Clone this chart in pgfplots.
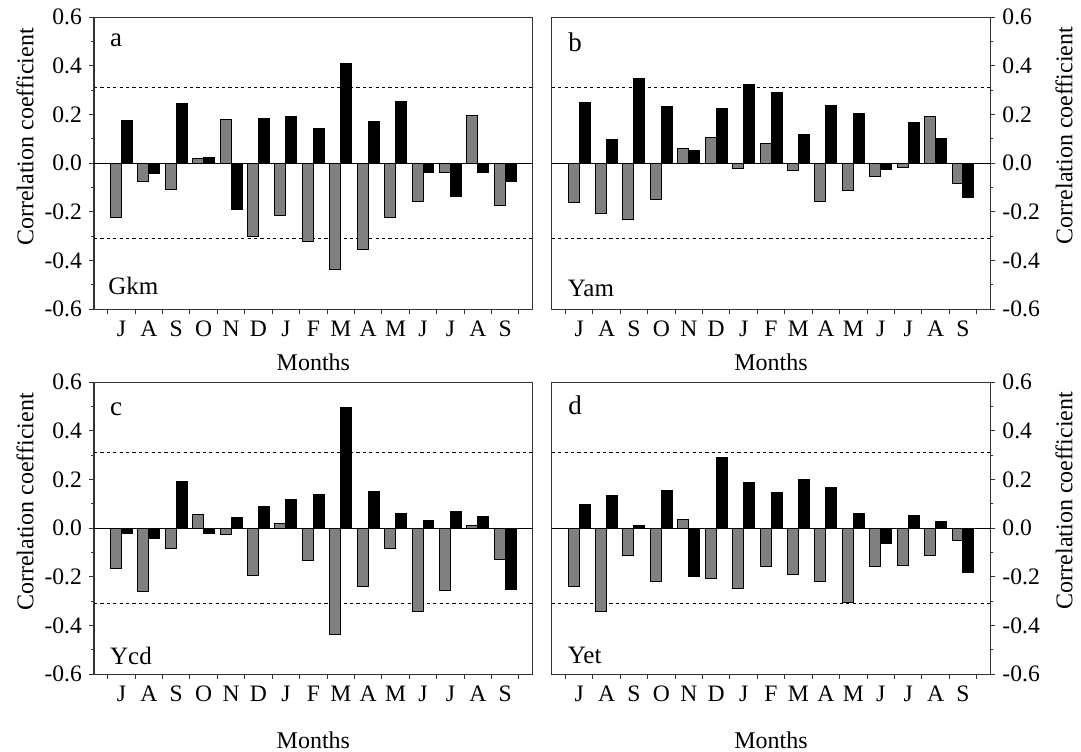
\documentclass[border=0pt]{standalone}
\usepackage{fontspec}
\setmainfont{Liberation Serif}
\usepackage{pgfplots}
\usepackage{pgfplotstable}
\pgfplotsset{compat=1.18}

\pgfplotstableread{
m ag ab bg bb cg cb dg db
1 -0.222 0.175 -0.163 0.248 -0.164 -0.023 -0.238 0.098
2 -0.075 -0.044 -0.208 0.097 -0.261 -0.041 -0.340 0.136
3 -0.107 0.247 -0.232 0.349 -0.085 0.194 -0.110 0.010
4 0.018 0.025 -0.149 0.233 0.056 -0.021 -0.217 0.155
5 0.178 -0.188 0.060 0.052 -0.026 0.044 0.036 -0.197
6 -0.299 0.184 0.104 0.227 -0.194 0.088 -0.205 0.290
7 -0.216 0.193 -0.021 0.323 0.019 0.117 -0.246 0.188
8 -0.322 0.142 0.082 0.290 -0.132 0.138 -0.157 0.146
9 -0.438 0.411 -0.029 0.119 -0.436 0.497 -0.190 0.202
10 -0.356 0.170 -0.159 0.236 -0.238 0.151 -0.219 0.169
11 -0.222 0.252 -0.110 0.203 -0.085 0.061 -0.304 0.061
12 -0.155 -0.037 -0.055 -0.025 -0.341 0.030 -0.157 -0.062
13 -0.037 -0.138 -0.016 0.166 -0.256 0.069 -0.153 0.054
14 0.195 -0.036 0.193 0.103 0.012 0.047 -0.111 0.026
15 -0.173 -0.075 -0.085 -0.140 -0.128 -0.252 -0.051 -0.182
}\data

\definecolor{bargray}{RGB}{128,128,128}

\pgfplotsset{
  panel/.style={
    scale only axis, width=219.35pt, height=146pt, anchor=south west,
    xmin=0, xmax=16, ymin=-0.6, ymax=0.6,
    xtick={0.5,1.5,2.5,3.5,4.5,5.5,6.5,7.5,8.5,9.5,10.5,11.5,12.5,13.5,14.5,15.5},
    x tick label as interval,
    xticklabels={J,A,S,O,N,D,J,F,M,A,M,J,J,A,S},
    ytick={-0.6,-0.4,-0.2,0,0.2,0.4,0.6},
    minor y tick num=1,
    tick align=outside, xtick pos=left,
    major tick length=2.5pt, minor tick length=1.5pt,
    axis line style={line width=0.65pt, black!80},
    every tick/.style={black!80, line width=0.5pt},
    yticklabel style={/pgf/number format/.cd, fixed, fixed zerofill, precision=1, assume math mode=true},
    tick label style={font=\fontsize{11.8}{13}\selectfont},
    label style={font=\fontsize{12}{14}\selectfont},
    ylabel={Correlation coefficient},
    xlabel={Months},
  },
  leftpanel/.style={panel, ytick pos=left,
    ylabel style={at={(axis description cs:-0.157,0.59)}, anchor=center}},
  rightpanel/.style={panel, ytick pos=right, yticklabel pos=right,
    ylabel style={at={(axis description cs:1.168,0.595)}, anchor=center}},
  toprow/.style={xlabel style={at={(axis description cs:0.5,-0.210)}, anchor=base}},
  botrow/.style={xlabel style={at={(axis description cs:0.5,-0.254)}, anchor=base}},
  gbar/.style={ybar, bar width=0.4, bar shift=-0.2, fill=bargray, draw=black, line width=0.5pt},
  kbar/.style={ybar, bar width=0.4, bar shift=0.2, fill=black, draw=black, line width=0.5pt},
  sig/.style={black, line width=0.5pt, dash pattern=on 1.6pt off 1.6pt, forget plot},
  zer/.style={black, line width=0.6pt},
}
\tikzset{plab/.style={anchor=base west, inner sep=0pt, font=\fontsize{12.5}{14}\selectfont},
         plet/.style={anchor=base west, inner sep=0pt, font=\fontsize{13.5}{15}\selectfont}}

\begin{document}
\begin{tikzpicture}
\path[use as bounding box] (0,0) rectangle (540.5pt,375.5pt);

% panel a
\begin{axis}[leftpanel, toprow, at={(47pt,220.85pt)}]
\addplot[sig] coordinates {(0,0.31) (16,0.31)};
\addplot[sig] coordinates {(0,-0.31) (16,-0.31)};
\addplot[gbar] table[x=m,y=ag]{\data};
\addplot[kbar] table[x=m,y=ab]{\data};
\addplot[zer] coordinates {(0,0) (16,0)};
\node[plet] at (rel axis cs:0.036,0.899) {a};
\node[plab] at (rel axis cs:0.032,0.049) {Gkm};
\end{axis}

% panel b
\begin{axis}[rightpanel, toprow, at={(275.85pt,220.85pt)}]
\addplot[sig] coordinates {(0,0.31) (16,0.31)};
\addplot[sig] coordinates {(0,-0.31) (16,-0.31)};
\addplot[gbar] table[x=m,y=bg]{\data};
\addplot[kbar] table[x=m,y=bb]{\data};
\addplot[zer] coordinates {(0,0) (16,0)};
\node[plet] at (rel axis cs:0.037,0.882) {b};
\node[plab] at (rel axis cs:0.036,0.043) {Yam};
\end{axis}

% panel c
\begin{axis}[leftpanel, botrow, at={(47pt,38.35pt)}]
\addplot[sig] coordinates {(0,0.31) (16,0.31)};
\addplot[sig] coordinates {(0,-0.31) (16,-0.31)};
\addplot[gbar] table[x=m,y=cg]{\data};
\addplot[kbar] table[x=m,y=cb]{\data};
\addplot[zer] coordinates {(0,0) (16,0)};
\node[plet] at (rel axis cs:0.036,0.885) {c};
\node[plab] at (rel axis cs:0.036,0.032) {Ycd};
\end{axis}

% panel d
\begin{axis}[rightpanel, botrow, at={(275.85pt,38.35pt)}]
\addplot[sig] coordinates {(0,0.31) (16,0.31)};
\addplot[sig] coordinates {(0,-0.31) (16,-0.31)};
\addplot[gbar] table[x=m,y=dg]{\data};
\addplot[kbar] table[x=m,y=db]{\data};
\addplot[zer] coordinates {(0,0) (16,0)};
\node[plet] at (rel axis cs:0.037,0.89) {d};
\node[plab] at (rel axis cs:0.036,0.038) {Yet};
\end{axis}
\end{tikzpicture}
\end{document}
